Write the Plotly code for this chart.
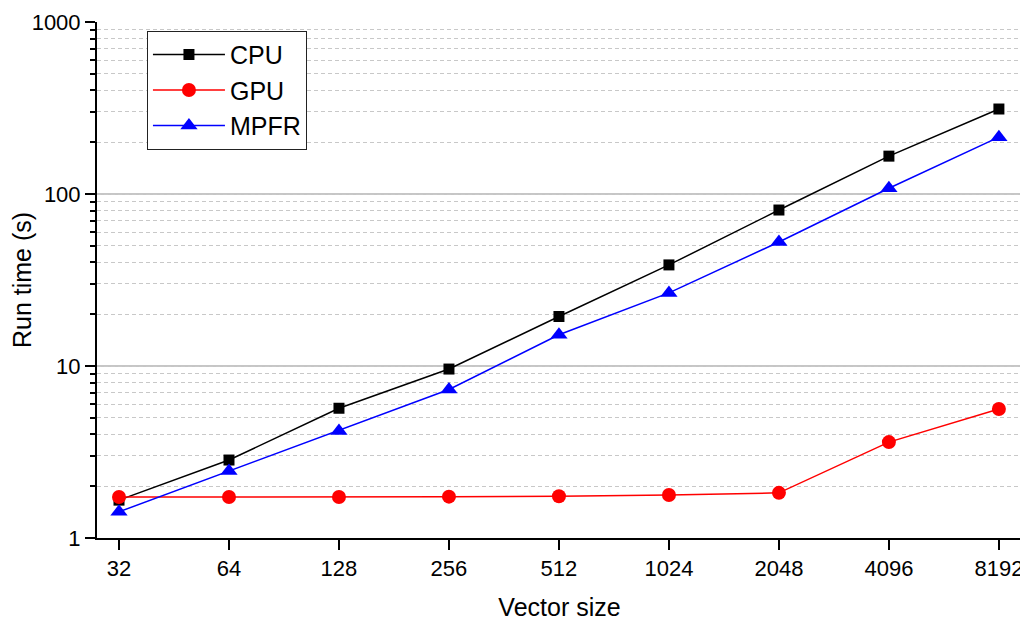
import plotly.graph_objects as go

sizes = ["32", "64", "128", "256", "512", "1024", "2048", "4096", "8192"]
cpu = [1.66, 2.84, 5.68, 9.6, 19.4, 38.7, 80.7, 166, 312]
gpu = [1.73, 1.73, 1.73, 1.74, 1.75, 1.78, 1.83, 3.61, 5.62]
mpfr = [1.42, 2.45, 4.19, 7.3, 15.2, 26.6, 52.6, 108, 214]

y_ticks = [1, 10, 100, 1000]
y_ticktext = ["1", "10", "100", "1000"]
major_grid = [10, 100]

FONT = "Liberation Sans, Arial, sans-serif"

fig = go.Figure()
fig.add_trace(go.Scatter(x=sizes, y=cpu, name="CPU", mode="lines+markers",
                         line=dict(color="black", width=1.5),
                         marker=dict(symbol="square", size=11, color="black")))
fig.add_trace(go.Scatter(x=sizes, y=gpu, name="GPU", mode="lines+markers",
                         line=dict(color="#ff0000", width=1.5),
                         marker=dict(symbol="circle", size=14, color="#ff0000")))
fig.add_trace(go.Scatter(x=sizes, y=mpfr, name="MPFR", mode="lines+markers",
                         line=dict(color="#0000ff", width=1.5),
                         marker=dict(symbol="triangle-up", size=15, color="#0000ff")))

# solid major grid lines (no line at the top edge)
for g in major_grid:
    fig.add_shape(type="line", xref="paper", yref="y", x0=0, x1=1, y0=g, y1=g,
                  line=dict(color="#8c8c8c", width=1), layer="below")

# the page body has an 8px margin, so the figure is sized/offset to compensate
fig.update_layout(
    width=1020, height=613,
    margin=dict(l=89, r=6, t=14, b=83, autoexpand=False),
    paper_bgcolor="white", plot_bgcolor="white",
    font=dict(family=FONT, color="black", size=22),
    showlegend=True,
    legend=dict(x=0.054, y=0.983, xanchor="left", yanchor="top",
                bordercolor="#222222", borderwidth=1, bgcolor="white",
                itemwidth=72,
                font=dict(size=25, family=FONT), tracegroupgap=0),
    xaxis=dict(type="category", range=[-0.2, 8.21], automargin=False,
               showline=True, linecolor="black", linewidth=2,
               ticks="outside", ticklen=10, tickwidth=2, tickcolor="black",
               showgrid=False, zeroline=False,
               tickfont=dict(size=22),
               title=dict(text="Vector size", font=dict(size=25), standoff=20)),
    yaxis=dict(type="log", range=[0, 3], automargin=False,
               tickvals=y_ticks, ticktext=y_ticktext,
               showline=True, linecolor="black", linewidth=2,
               ticks="outside", ticklen=10, tickwidth=2, tickcolor="black",
               showgrid=False, zeroline=False,
               tickfont=dict(size=22),
               minor=dict(ticks="outside", ticklen=5, tickwidth=1.5, tickcolor="black",
                          dtick="D1", showgrid=True, gridcolor="#c8c8c8",
                          griddash="4px,3px", gridwidth=1),
               title=dict(text="Run time (s)", font=dict(size=25), standoff=4)),
)

fig.write_html("out.html")
